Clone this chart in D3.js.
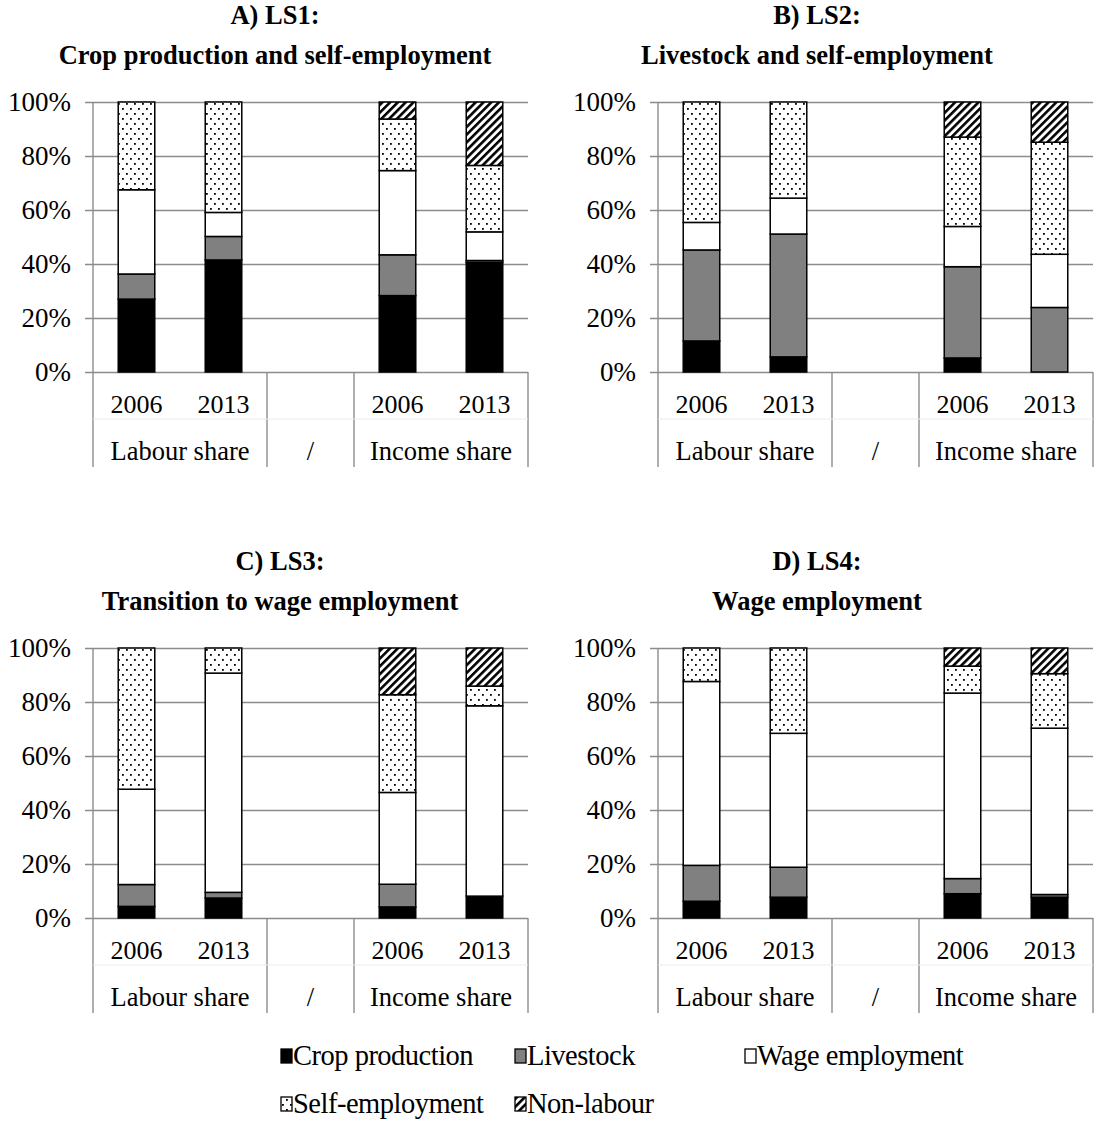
<!DOCTYPE html>
<html>
<head>
<meta charset="utf-8">
<script src="https://cdn.jsdelivr.net/npm/d3@7"></script>
<style>
  body { margin: 0; background: #fff; }
  svg text { font-family: "Liberation Serif", "Times New Roman", serif; fill: #000; }
</style>
</head>
<body>
<svg width="1096" height="1147"></svg>
<script>
// categories on the x axis (the empty slot is the "/" gap)
const slots = ['L2006', 'L2013', 'gap', 'I2006', 'I2013'];
const slotLabels = ['2006', '2013', '', '2006', '2013'];
const groupLabels = ['Labour share', '/', 'Income share'];
const barSlots = ['L2006', 'L2013', 'I2006', 'I2013'];
const seriesNames = ['Crop production', 'Livestock', 'Wage employment', 'Self-employment', 'Non-labour'];
const panelTitles = [
  ['A) LS1:', 'Crop production and self-employment'],
  ['B) LS2:', 'Livestock and self-employment'],
  ['C) LS3:', 'Transition to wage employment'],
  ['D) LS4:', 'Wage employment']
];
const yTicks = [0, 0.2, 0.4, 0.6, 0.8, 1];

// shares in %, one row per panel, one value per bar (L2006, L2013, I2006, I2013)
const cropProduction = [[27.0, 41.5, 28.3, 40.6], [11.5, 5.6, 5.2, 0], [4.3, 7.4, 4.1, 8.1], [6.2, 7.7, 9.0, 7.7]];
const livestock      = [[9.3, 8.7, 15.1, 0.7], [33.7, 45.5, 33.8, 23.9], [8.1, 2.1, 8.4, 0], [13.3, 11.1, 5.6, 1.0]];
const wageEmployment = [[31.2, 8.9, 31.2, 10.6], [10.2, 13.3, 14.9, 19.7], [35.3, 81.2, 34.0, 70.5], [68.1, 49.6, 68.7, 61.6]];
const selfEmployment = [[32.5, 40.9, 19.1, 24.6], [44.6, 35.6, 33.1, 41.5], [52.3, 9.3, 36.2, 7.3], [12.4, 31.6, 10.0, 20.2]];
const nonLabour      = [[0, 0, 6.3, 23.5], [0, 0, 13.0, 14.9], [0, 0, 17.3, 14.1], [0, 0, 6.7, 9.5]];

const svg = d3.select('svg');
const gridColor = '#8c8c8c';

// fill patterns
const defs = svg.append('defs');
const dots = defs.append('pattern').attr('id', 'dots')
  .attr('patternUnits', 'userSpaceOnUse').attr('width', 8).attr('height', 10);
dots.append('rect').attr('width', 8).attr('height', 10).attr('fill', '#fff');
dots.append('rect').attr('x', 1).attr('y', 1).attr('width', 1.8).attr('height', 1.8).attr('fill', '#000');
dots.append('rect').attr('x', 5).attr('y', 6).attr('width', 1.8).attr('height', 1.8).attr('fill', '#000');

const hatch = defs.append('pattern').attr('id', 'hatch')
  .attr('patternUnits', 'userSpaceOnUse').attr('width', 5.5).attr('height', 5.5)
  .attr('patternTransform', 'rotate(45)');
hatch.append('rect').attr('width', 5.5).attr('height', 5.5).attr('fill', '#fff');
hatch.append('rect').attr('width', 2.6).attr('height', 5.5).attr('fill', '#000');

const fills = ['#000', '#808080', '#fff', 'url(#dots)', 'url(#hatch)'];
const color = d3.scaleOrdinal().domain(seriesNames).range(fills);

const innerWidth = 435;
const innerHeight = 270;
const panelPos = [[93, 102], [658, 102], [93, 648], [658, 648]];
const titleX = [275, 817, 280, 817];

const x = d3.scaleBand().domain(slots).range([0, innerWidth]).padding(0);
const y = d3.scaleLinear().domain([0, 1]).range([innerHeight, 0]);
const barW = x.bandwidth() * 0.42;

const stack = d3.stack().keys(seriesNames);

panelPos.forEach(([px, py], p) => {
  const g = svg.append('g').attr('transform', `translate(${px}, ${py})`);

  // title
  svg.append('text').attr('x', titleX[p]).attr('y', py - 78)
    .attr('text-anchor', 'middle').style('font-weight', 'bold').style('font-size', '26.5px')
    .text(panelTitles[p][0]);
  svg.append('text').attr('x', titleX[p]).attr('y', py - 38)
    .attr('text-anchor', 'middle').style('font-weight', 'bold').style('font-size', '26.5px')
    .text(panelTitles[p][1]);

  // gridlines + y labels
  const yAxis = d3.axisLeft(y).tickValues(yTicks).tickFormat(d3.format('.0%'))
    .tickSize(-innerWidth - 8).tickPadding(14);
  const ya = g.append('g').attr('transform', 'translate(-8, 0)').call(yAxis);
  ya.select('.domain').remove();
  ya.selectAll('.tick line').attr('stroke', gridColor).attr('stroke-width', 1.4);
  ya.selectAll('.tick text').style('font-size', '27px')
    .style('font-family', '"Liberation Serif", serif').attr('fill', '#000');

  // category axis lines
  const catLines = [0, x('gap'), x('I2006'), innerWidth];
  g.append('line').attr('x1', 0).attr('x2', 0).attr('y1', 0).attr('y2', innerHeight)
    .attr('stroke', gridColor).attr('stroke-width', 1.4);
  g.selectAll('.sep').data(catLines).enter().append('line')
    .attr('x1', d => d).attr('x2', d => d)
    .attr('y1', innerHeight).attr('y2', innerHeight + 95)
    .attr('stroke', gridColor).attr('stroke-width', 1.4);
  g.append('line').attr('x1', 0).attr('x2', innerWidth)
    .attr('y1', innerHeight + 47).attr('y2', innerHeight + 47)
    .attr('stroke', '#ececec').attr('stroke-width', 1);

  g.selectAll('.yr').data(slots).enter().append('text')
    .attr('x', d => x(d) + x.bandwidth() / 2).attr('y', innerHeight + 41)
    .attr('text-anchor', 'middle').style('font-size', '26px')
    .text((d, i) => slotLabels[i]);

  const groupCenters = [x('L2013'), x('gap') + x.bandwidth() / 2, x('I2013')];
  g.selectAll('.grp').data(groupLabels).enter().append('text')
    .attr('x', (d, i) => groupCenters[i]).attr('y', innerHeight + 88)
    .attr('text-anchor', 'middle').style('font-size', '26.5px')
    .text(d => d);

  // stacked bars
  const rows = barSlots.map((s, i) => ({
    slot: s,
    'Crop production': cropProduction[p][i] / 100,
    'Livestock': livestock[p][i] / 100,
    'Wage employment': wageEmployment[p][i] / 100,
    'Self-employment': selfEmployment[p][i] / 100,
    'Non-labour': nonLabour[p][i] / 100
  }));
  const layers = stack(rows);

  g.selectAll('.layer').data(layers).enter().append('g')
    .attr('fill', d => color(d.key))
    .selectAll('rect').data(d => d.filter(v => v[1] - v[0] > 0)).enter().append('rect')
      .attr('x', d => x(d.data.slot) + (x.bandwidth() - barW) / 2)
      .attr('y', d => y(d[1]))
      .attr('width', barW)
      .attr('height', d => y(d[0]) - y(d[1]))
      .attr('stroke', '#000').attr('stroke-width', 1.5);
});

// legend
const legendPos = [[281, 1065], [515, 1065], [745, 1065], [281, 1113], [515, 1113]];
const legend = svg.append('g');
const items = legend.selectAll('g').data(seriesNames).enter().append('g')
  .attr('transform', (d, i) => `translate(${legendPos[i][0]}, ${legendPos[i][1]})`);
items.append('rect').attr('x', 0).attr('y', -16).attr('width', 11).attr('height', 14)
  .attr('fill', d => color(d)).attr('stroke', '#000').attr('stroke-width', 1.3);
items.append('text').attr('x', 12).attr('y', 0).style('font-size', '28.5px')
  .style('letter-spacing', '-0.5px').text(d => d);
</script>
</body>
</html>
